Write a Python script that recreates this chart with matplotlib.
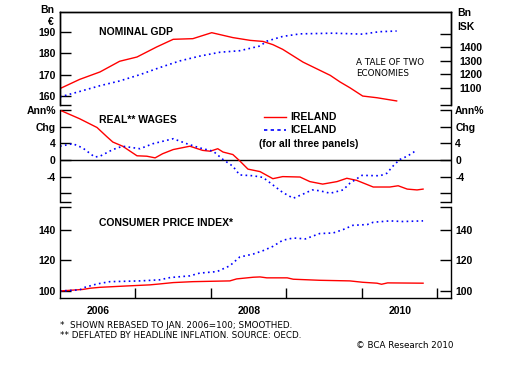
import matplotlib.pyplot as plt

# ---- data (decimal years) ----
gdp_ie_t = [2006.00, 2006.26, 2006.53, 2006.79, 2007.02, 2007.28, 2007.50, 2007.76, 2008.01, 2008.29,
            2008.52, 2008.69, 2008.82, 2008.95, 2009.22, 2009.58, 2009.71, 2009.84, 2010.01, 2010.20, 2010.46]
gdp_ie = [163.5, 167.8, 171.3, 176.3, 178.3, 183.0, 186.6, 186.9, 189.7, 187.4,
          186.1, 185.6, 184.1, 181.9, 175.9, 169.7, 166.6, 163.9, 160.0, 159.2, 157.7]

gdp_is_t = [2006.00, 2006.26, 2006.53, 2006.79, 2007.06, 2007.32, 2007.59, 2007.85, 2008.12, 2008.38,
            2008.65, 2008.74, 2008.95, 2009.18, 2009.62, 2010.01, 2010.23, 2010.46]
gdp_is = [1034, 1074, 1117, 1152, 1199, 1251, 1301, 1336, 1365, 1376,
          1411, 1447, 1482, 1501, 1506, 1499, 1517, 1522]

wage_ie_t = [2006.00, 2006.26, 2006.49, 2006.62, 2006.70, 2006.83, 2007.02, 2007.15, 2007.26, 2007.36,
             2007.50, 2007.72, 2007.89, 2007.99, 2008.09, 2008.16, 2008.29, 2008.38, 2008.49, 2008.65,
             2008.82, 2008.95, 2009.18, 2009.31, 2009.48, 2009.67, 2009.80, 2009.93, 2010.15, 2010.37,
             2010.48, 2010.60, 2010.73, 2010.81]
wage_ie = [11.95, 9.9, 7.8, 5.6, 4.3, 3.3, 1.0, 0.9, 0.5, 1.5,
           2.5, 3.3, 2.3, 2.1, 2.7, 1.9, 1.3, -0.2, -2.2, -2.8,
           -4.5, -4.0, -4.1, -5.2, -5.8, -5.2, -4.4, -4.9, -6.5, -6.5,
           -6.2, -7.0, -7.2, -7.0]

wage_is_t = [2006.00, 2006.17, 2006.30, 2006.46, 2006.53, 2006.70, 2006.83, 2007.06, 2007.23, 2007.50,
             2007.68, 2007.85, 2008.03, 2008.16, 2008.29, 2008.38, 2008.56, 2008.69, 2008.82, 2008.95,
             2009.09, 2009.22, 2009.34, 2009.44, 2009.58, 2009.75, 2009.84, 2010.00, 2010.24, 2010.33,
             2010.41, 2010.50, 2010.60, 2010.68, 2010.70]
wage_is = [3.3, 3.9, 2.9, 0.7, 0.9, 2.5, 3.3, 2.7, 3.9, 5.1,
           3.9, 2.9, 2.1, 0.1, -1.5, -3.6, -3.8, -4.2, -6.0, -7.8,
           -9.2, -8.2, -7.2, -7.4, -8.0, -7.2, -5.6, -3.7, -3.8, -3.2,
           -1.5, 0.1, 0.9, 1.8, 2.1]

cpi_ie_t = [2006.00, 2006.30, 2006.40, 2006.53, 2006.89, 2007.19, 2007.32, 2007.50, 2007.76, 2008.25,
            2008.34, 2008.56, 2008.65, 2008.74, 2009.01, 2009.09, 2009.44, 2009.84, 2010.01, 2010.20,
            2010.26, 2010.34, 2010.81]
cpi_ie = [100.0, 101.0, 101.8, 102.4, 103.3, 104.0, 104.6, 105.5, 106.1, 106.6,
          107.9, 109.0, 109.2, 108.6, 108.6, 107.7, 107.0, 106.6, 105.7, 105.1,
          104.4, 105.3, 105.1]

cpi_is_t = [2006.00, 2006.26, 2006.33, 2006.49, 2006.66, 2007.06, 2007.32, 2007.46, 2007.72, 2007.85,
            2008.08, 2008.25, 2008.38, 2008.56, 2008.69, 2008.82, 2008.95, 2009.09, 2009.25, 2009.44,
            2009.62, 2009.75, 2009.88, 2010.07, 2010.15, 2010.37, 2010.54, 2010.81]
cpi_is = [100.0, 100.7, 102.4, 104.6, 106.1, 106.6, 107.3, 108.8, 109.9, 111.7,
          112.7, 116.5, 122.2, 124.2, 126.4, 129.2, 133.2, 134.7, 134.1, 137.6,
          138.0, 140.2, 143.0, 143.5, 145.0, 145.9, 145.5, 145.9]

year_ticks = [2007, 2008, 2009, 2010, 2011]
year_label_pos = [2006.5, 2008.5, 2010.5]
year_labels = ['2006', '2008', '2010']

RED = '#ff0000'
BLUE = '#0000ff'
W, H = 511, 365
BOLD = dict(family='Liberation Sans', fontweight='bold')

fig = plt.figure(figsize=(W / 100, H / 100), dpi=100)


def box(x0, y0, x1, y1):
    # pixel box (top-left origin) -> figure rect
    return [x0 / W, 1 - y1 / H, (x1 - x0) / W, (y1 - y0) / H]


def fpos(x, y):
    return x / W, 1 - y / H


ax1 = fig.add_axes(box(60, 12, 451, 105))
ax2 = fig.add_axes(box(60, 110, 451, 202))
ax3 = fig.add_axes(box(60, 207, 451, 298))
ax1r = ax1.twinx()

xlim = (2006.0, 2011.18)
for ax in (ax1, ax2, ax3, ax1r):
    ax.set_xlim(*xlim)
    ax.set_facecolor('none')
    ax.tick_params(direction='in', length=8, width=1, labelsize=7.5, pad=3)
    for s in ax.spines.values():
        s.set_linewidth(1)

# panel 1: nominal GDP
ax1.plot(gdp_ie_t, gdp_ie, color=RED, lw=1)
ax1r.plot(gdp_is_t, gdp_is, color=BLUE, lw=1.2, ls=(0, (1, 2)))
ax1.set_ylim(155.8, 199.4)
ax1r.set_ylim(974, 1663)
ax1.set_yticks([155.8, 160, 170, 180, 190], ['', '160', '170', '180', '190'], **BOLD)
ax1r.set_yticks([974, 1100, 1200, 1300, 1400, 1500], ['', '1100', '1200', '1300', '1400', ''], **BOLD)
ax1r.tick_params(direction='in', length=8, labelsize=7.5, pad=6)
for a in (ax1, ax1r):
    a.spines['bottom'].set_visible(False)
    a.set_xticks([])
ax1.text(0.1, 0.785, 'NOMINAL GDP', transform=ax1.transAxes, fontsize=7.5, va='center', **BOLD)
ax1.text(0.758, 0.40, 'A TALE OF TWO\nECONOMIES', transform=ax1.transAxes,
         fontsize=6.3, family='DejaVu Sans', linespacing=1.3, va='center')

# panel 2: real wages
ax2.axhline(0, color='black', lw=1)
l_ie, = ax2.plot(wage_ie_t, wage_ie, color=RED, lw=1, label='IRELAND')
l_is, = ax2.plot(wage_is_t, wage_is, color=BLUE, lw=1.2, ls=(0, (1, 2)), label='ICELAND')
ax2.set_ylim(-10.1, 12)
ax2.set_yticks([-10.1, -8, -4, 0, 4, 8, 12], ['', '', '-4', '0', '4', 'Chg', 'Ann%'], **BOLD)
ax2.tick_params(right=True, labelright=True)
ax2.spines['top'].set_visible(False)
ax2.spines['bottom'].set_visible(False)
ax2.set_xticks([])
ax2.text(0.1, 0.891, 'REAL** WAGES', transform=ax2.transAxes, fontsize=7.5, va='center', **BOLD)
leg = ax2.legend(handles=[l_ie, l_is], loc='upper left', bbox_to_anchor=fpos(255, 103),
                 bbox_transform=fig.transFigure, frameon=False, handlelength=2.1,
                 handletextpad=0.4, labelspacing=0.3, prop=dict(family='Liberation Sans',
                                                                 weight='bold', size=7.5))
leg.get_lines()[1].set_linestyle((0, (2, 2)))
ax2.text(*fpos(259, 144), '(for all three panels)', transform=fig.transFigure,
         fontsize=7.5, va='center', **BOLD)

# panel 3: CPI
ax3.plot(cpi_ie_t, cpi_ie, color=RED, lw=1)
ax3.plot(cpi_is_t, cpi_is, color=BLUE, lw=1.2, ls=(0, (1, 2)))
ax3.set_ylim(95.4, 155)
ax3.set_yticks([100, 120, 140, 155], ['100', '120', '140', ''], **BOLD)
ax3.tick_params(right=True, labelright=True)
ax3.spines['top'].set_visible(False)
ax3.set_xticks(year_ticks, [''] * len(year_ticks))
ax3.tick_params(axis='x', length=7)
ax3.set_xticks(year_label_pos, year_labels, minor=True, fontsize=7.5, **BOLD)
ax3.tick_params(axis='x', which='minor', length=0, pad=6)
ax3.text(0.1, 0.824, 'CONSUMER PRICE INDEX*', transform=ax3.transAxes, fontsize=7.5,
         va='center', **BOLD)

# axis unit labels
fig.text(*fpos(54, 10), 'Bn', ha='right', va='center', fontsize=7.5, **BOLD)
fig.text(*fpos(54, 22), '€', ha='right', va='center', fontsize=7.5, **BOLD)
fig.text(*fpos(457, 13), 'Bn', ha='left', va='center', fontsize=7.5, **BOLD)
fig.text(*fpos(457, 27), 'ISK', ha='left', va='center', fontsize=7.5, **BOLD)

# footnotes
fig.text(*fpos(60, 325), '*  SHOWN REBASED TO JAN. 2006=100; SMOOTHED.', va='center',
         fontsize=6.3, family='DejaVu Sans')
fig.text(*fpos(60, 336), '** DEFLATED BY HEADLINE INFLATION. SOURCE: OECD.', va='center',
         fontsize=6.3, family='DejaVu Sans')
fig.text(*fpos(453, 346), '© BCA Research 2010', ha='right', va='center',
         fontsize=6.3, family='DejaVu Sans')

fig.savefig('out.png', dpi=100)
